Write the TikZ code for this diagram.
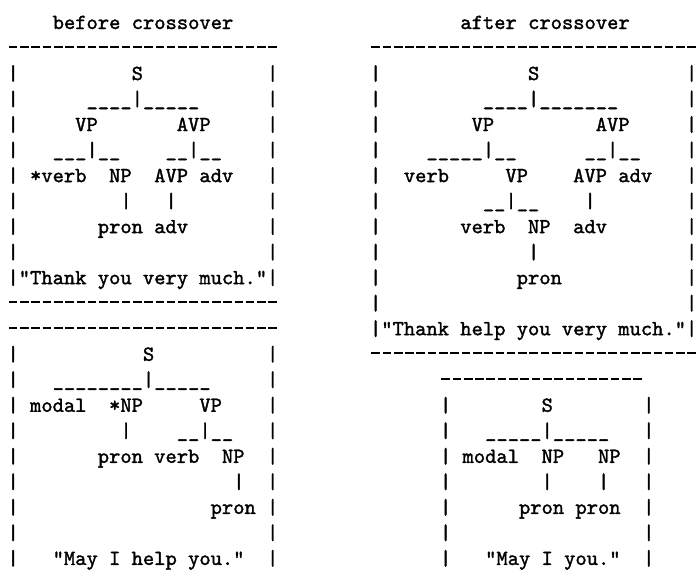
\documentclass[tikz,border=0pt]{standalone}
% typewriter face, slightly emboldened
\font\reftt="[lmmono10-regular]:embolden=1.5" at 21.5pt
% blank cells, dashes and underscores in the typewriter grid
\newcommand\gap[1]{\kern#1\fontcharwd\font`a\relax}
\newcommand\dashes[1]{\foreach\i in {1,...,#1}{\makebox[0.525em]{\rule[0.31em]{0.4em}{0.085em}}}}
\newcommand\us[1]{\foreach\i in {1,...,#1}{\char`\_}}
% one text row: name, left edge of the block, row number, text
\newcommand\tline[4]{\node[mono] (#1) at (#2,{-29-25.52*#3}) {#4};}
\tikzset{mono/.style={anchor=base west, inner sep=0pt, outer sep=0pt,
  font=\reftt}}
\begin{document}
\begin{tikzpicture}[x=1pt,y=1pt]
\useasboundingbox (0,0) rectangle (697,-581);
% ---- before crossover, first sentence
\tline{tb}{52.7}{0}{before crossover}
\tline{a1}{7.5}{1}{\dashes{24}}
\tline{a2}{7.5}{2}{|\gap{10}S\gap{11}|}
\tline{a3}{7.5}{3}{|\gap{6}\us{4}|\us{5}\gap{6}|}
\tline{a4}{7.5}{4}{|\gap{5}VP\gap{7}AVP\gap{5}|}
\tline{a5}{7.5}{5}{|\gap{3}\us{3}|\us{2}\gap{4}\us{2}|\us{2}\gap{4}|}
\tline{a6}{7.5}{6}{|\gap{1}*verb\gap{2}NP\gap{2}AVP\gap{1}adv\gap{3}|}
\tline{a7}{7.5}{7}{|\gap{9}|\gap{3}|\gap{8}|}
\tline{a8}{7.5}{8}{|\gap{7}pron\gap{1}adv\gap{7}|}
\tline{a9}{7.5}{9}{|\gap{22}|}
\tline{a10}{7.5}{10}{|"Thank\gap{1}you\gap{1}very\gap{1}much."|}
\tline{a11}{7.5}{11}{\dashes{24}}
% ---- before crossover, second sentence
\tline{b12}{7.5}{12}{\dashes{24}}
\tline{b13}{7.5}{13}{|\gap{11}S\gap{10}|}
\tline{b14}{7.5}{14}{|\gap{3}\us{8}|\us{5}\gap{5}|}
\tline{b15}{7.5}{15}{|\gap{1}modal\gap{2}*NP\gap{5}VP\gap{4}|}
\tline{b16}{7.5}{16}{|\gap{9}|\gap{4}\us{2}|\us{2}\gap{3}|}
\tline{b17}{7.5}{17}{|\gap{7}pron\gap{1}verb\gap{2}NP\gap{2}|}
\tline{b18}{7.5}{18}{|\gap{19}|\gap{2}|}
\tline{b19}{7.5}{19}{|\gap{17}pron\gap{1}|}
\tline{b20}{7.5}{20}{|\gap{22}|}
\tline{b21}{7.5}{21}{|\gap{3}"May\gap{1}I\gap{1}help\gap{1}you."\gap{2}|}
% ---- after crossover, first offspring
\tline{ta}{460.4}{0}{after crossover}
\tline{c1}{370}{1}{\dashes{29}}
\tline{c2}{370}{2}{|\gap{13}S\gap{13}|}
\tline{c3}{370}{3}{|\gap{9}\us{4}|\us{7}\gap{6}|}
\tline{c4}{370}{4}{|\gap{8}VP\gap{9}AVP\gap{5}|}
\tline{c5}{370}{5}{|\gap{4}\us{5}|\us{2}\gap{6}\us{2}|\us{2}\gap{4}|}
\tline{c6}{370}{6}{|\gap{2}verb\gap{5}VP\gap{4}AVP\gap{1}adv\gap{3}|}
\tline{c7}{370}{7}{|\gap{9}\us{2}|\us{2}\gap{4}|\gap{8}|}
\tline{c8}{370}{8}{|\gap{7}verb\gap{2}NP\gap{2}adv\gap{7}|}
\tline{c9}{370}{9}{|\gap{13}|\gap{13}|}
\tline{c10}{370}{10}{|\gap{12}pron\gap{11}|}
\tline{c11}{370}{11}{|\gap{27}|}
\tline{c12}{370}{12}{|"Thank\gap{1}help\gap{1}you\gap{1}very\gap{1}much."|}
\tline{c13}{370}{13}{\dashes{29}}
% ---- after crossover, second offspring
\tline{d14}{440}{14}{\dashes{18}}
\tline{d15}{440}{15}{|\gap{8}S\gap{8}|}
\tline{d16}{440}{16}{|\gap{3}\us{5}|\us{5}\gap{3}|}
\tline{d17}{440}{17}{|\gap{1}modal\gap{2}NP\gap{3}NP\gap{2}|}
\tline{d18}{440}{18}{|\gap{8}|\gap{4}|\gap{3}|}
\tline{d19}{440}{19}{|\gap{6}pron\gap{1}pron\gap{2}|}
\tline{d20}{440}{20}{|\gap{17}|}
\tline{d21}{440}{21}{|\gap{3}"May\gap{1}I\gap{1}you."\gap{2}|}
\end{tikzpicture}
\end{document}
